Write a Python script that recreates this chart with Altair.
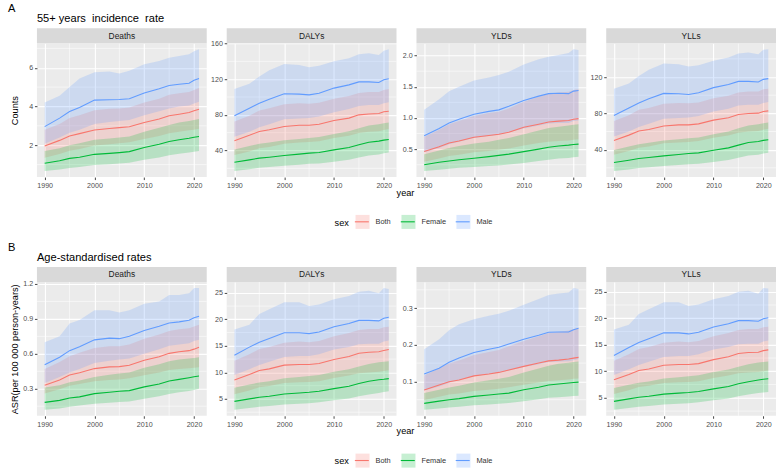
import altair as alt
import pandas as pd

# ---------------------------------------------------------------------------
# Data
# ---------------------------------------------------------------------------
YEARS = [1990, 1993, 1995, 1997, 2000, 2003, 2005, 2007, 2010, 2013, 2015, 2017, 2019, 2020, 2021]
MEASURES = ["Deaths", "DALYs", "YLDs", "YLLs"]
SEXES = ["Both", "Female", "Male"]
SEX_COLORS = ["#F8766D", "#00BA38", "#619CFF"]

# A: 55+ years incidence rate (counts) -------------------------------------
A_DEATHS_BOTH = [1.96, 2.25, 2.48, 2.6, 2.79, 2.86, 2.91, 2.95, 3.17, 3.35, 3.52, 3.6, 3.69, 3.78, 3.86]
A_DEATHS_BOTH_LO = [1.35, 1.55, 1.72, 1.8, 1.98, 2.05, 2.1, 2.15, 2.32, 2.47, 2.62, 2.7, 2.77, 2.8, 2.85]
A_DEATHS_BOTH_HI = [2.8, 3.1, 3.4, 3.55, 3.8, 3.88, 3.9, 3.95, 4.2, 4.4, 4.6, 4.68, 4.75, 4.85, 4.95]
A_DEATHS_FEMALE = [1.07, 1.2, 1.32, 1.38, 1.53, 1.58, 1.62, 1.67, 1.88, 2.05, 2.19, 2.28, 2.36, 2.41, 2.45]
A_DEATHS_FEMALE_LO = [0.67, 0.75, 0.83, 0.88, 0.98, 1.02, 1.06, 1.1, 1.25, 1.37, 1.48, 1.56, 1.62, 1.66, 1.7]
A_DEATHS_FEMALE_HI = [1.7, 1.85, 2.0, 2.1, 2.28, 2.35, 2.4, 2.45, 2.7, 2.9, 3.05, 3.17, 3.25, 3.3, 3.35]
A_DEATHS_MALE = [2.96, 3.4, 3.74, 3.95, 4.33, 4.35, 4.36, 4.4, 4.7, 4.92, 5.08, 5.15, 5.2, 5.35, 5.45]
A_DEATHS_MALE_LO = [2.07, 2.4, 2.65, 2.8, 3.1, 3.2, 3.25, 3.3, 3.55, 3.75, 3.9, 4.0, 4.05, 4.15, 4.25]
A_DEATHS_MALE_HI = [4.2, 4.55, 5.0, 5.45, 5.77, 5.8, 5.7, 5.85, 6.18, 6.35, 6.52, 6.6, 6.7, 6.85, 6.95]

A_DALYS_BOTH = [51, 57, 61.4, 63.2, 67, 68.4, 68.4, 69.5, 73.6, 76.3, 80, 81, 81.5, 83.4, 84.1]
A_DALYS_BOTH_LO = [35, 39, 42.5, 44, 47.5, 49, 49.5, 50.5, 54, 56.5, 59.5, 61, 61.5, 63, 64]
A_DALYS_BOTH_HI = [72.5, 79, 85, 87.5, 92, 93, 92.5, 93.5, 98, 101, 104.5, 105.5, 105.5, 108, 109]
A_DALYS_FEMALE = [26.9, 29.5, 31.4, 32.5, 34.4, 35.9, 37, 37.8, 40.7, 43.4, 46.4, 49.3, 50.5, 51.6, 52.3]
A_DALYS_FEMALE_LO = [17, 19, 20.5, 21.5, 23, 24, 25, 25.5, 27.5, 29.5, 32, 34.5, 35.5, 37, 37.8]
A_DALYS_FEMALE_HI = [41, 45, 47.5, 49, 51.5, 53, 54, 55, 58.5, 61.5, 65, 68, 69.5, 70.5, 71.5]
A_DALYS_MALE = [79, 87.5, 93, 97.6, 103.6, 103.2, 102.4, 104.3, 110, 113.6, 117, 117, 116.3, 119.3, 120.4]
A_DALYS_MALE_LO = [55.5, 61, 66, 69.5, 75, 76, 76.5, 78, 83, 86.5, 90, 91, 91, 93, 94]
A_DALYS_MALE_HI = [109, 115, 123, 130, 137, 136, 133.5, 135, 140, 143.5, 148, 149, 147, 152, 153.5]

A_YLDS_BOTH = [0.463, 0.54, 0.6, 0.63, 0.69, 0.72, 0.74, 0.77, 0.85, 0.9, 0.935, 0.95, 0.96, 0.98, 0.99]
A_YLDS_BOTH_LO = [0.3, 0.35, 0.39, 0.41, 0.45, 0.47, 0.49, 0.51, 0.56, 0.6, 0.62, 0.63, 0.64, 0.65, 0.66]
A_YLDS_BOTH_HI = [0.7, 0.81, 0.9, 0.95, 1.03, 1.08, 1.1, 1.15, 1.26, 1.34, 1.39, 1.41, 1.42, 1.45, 1.46]
A_YLDS_FEMALE = [0.25, 0.29, 0.31, 0.33, 0.355, 0.38, 0.4, 0.42, 0.46, 0.5, 0.53, 0.55, 0.565, 0.575, 0.58]
A_YLDS_FEMALE_LO = [0.15, 0.17, 0.185, 0.2, 0.215, 0.23, 0.24, 0.255, 0.28, 0.31, 0.33, 0.35, 0.36, 0.37, 0.38]
A_YLDS_FEMALE_HI = [0.42, 0.48, 0.52, 0.55, 0.59, 0.62, 0.65, 0.68, 0.74, 0.8, 0.84, 0.86, 0.88, 0.89, 0.9]
A_YLDS_MALE = [0.714, 0.83, 0.92, 0.98, 1.06, 1.105, 1.13, 1.186, 1.28, 1.35, 1.39, 1.395, 1.39, 1.43, 1.44]
A_YLDS_MALE_LO = [0.45, 0.52, 0.58, 0.62, 0.68, 0.71, 0.73, 0.77, 0.83, 0.88, 0.91, 0.92, 0.92, 0.95, 0.96]
A_YLDS_MALE_HI = [1.13, 1.3, 1.43, 1.5, 1.6, 1.65, 1.69, 1.74, 1.855, 1.94, 1.98, 2.01, 2.04, 2.1, 2.09]

A_YLLS_BOTH = [50.2, 56, 60.5, 62.2, 66, 67.3, 67.3, 68.4, 72.5, 75.1, 78.8, 79.8, 80.2, 82, 82.7]
A_YLLS_BOTH_LO = [34.5, 38.5, 42, 43.5, 47, 48, 48.5, 49.5, 53, 55.5, 58.5, 60, 60.5, 62, 63]
A_YLLS_BOTH_HI = [71.5, 78, 84, 86, 90.5, 91.5, 91, 92, 96.5, 99.5, 103, 104, 104, 106.5, 107]
A_YLLS_FEMALE = [25.8, 28.4, 30.3, 31.4, 33.2, 34.7, 35.7, 36.5, 39.4, 42, 45, 47.8, 49, 50.2, 51]
A_YLLS_FEMALE_LO = [16.5, 18.2, 19.7, 20.6, 22, 23, 24, 24.5, 26.5, 28.5, 31, 33.5, 34.5, 35.8, 36.5]
A_YLLS_FEMALE_HI = [39.5, 43.5, 46, 47.5, 50, 51.5, 52.5, 53.5, 57, 60, 63.5, 66.5, 68, 69, 70]
A_YLLS_MALE = [77.5, 86, 91.5, 96, 102, 101.5, 100.8, 102.6, 108.3, 111.8, 115.2, 115.2, 114.5, 117.4, 118.2]
A_YLLS_MALE_LO = [54.5, 60, 65, 68.5, 74, 75, 75.5, 77, 82, 85, 88.5, 89.5, 89.5, 91.5, 92.5]
A_YLLS_MALE_HI = [107, 113, 121, 128, 135, 134, 131.5, 133, 138, 141.5, 146, 147, 145, 150, 150.5]

# B: age-standardised rates ---------------------------------------------------
B_DEATHS_BOTH = [0.33, 0.375, 0.418, 0.438, 0.473, 0.488, 0.49, 0.502, 0.545, 0.575, 0.604, 0.618, 0.627, 0.64, 0.656]
B_DEATHS_BOTH_LO = [0.26, 0.295, 0.325, 0.34, 0.365, 0.375, 0.38, 0.39, 0.415, 0.44, 0.46, 0.47, 0.475, 0.48, 0.485]
B_DEATHS_BOTH_HI = [0.47, 0.53, 0.58, 0.61, 0.65, 0.665, 0.665, 0.68, 0.73, 0.765, 0.795, 0.81, 0.82, 0.835, 0.85]
B_DEATHS_FEMALE = [0.183, 0.2, 0.22, 0.23, 0.258, 0.27, 0.279, 0.284, 0.316, 0.34, 0.366, 0.38, 0.395, 0.403, 0.41]
B_DEATHS_FEMALE_LO = [0.12, 0.13, 0.145, 0.155, 0.17, 0.18, 0.185, 0.19, 0.215, 0.235, 0.255, 0.27, 0.28, 0.29, 0.3]
B_DEATHS_FEMALE_HI = [0.31, 0.33, 0.355, 0.37, 0.4, 0.42, 0.43, 0.44, 0.48, 0.51, 0.535, 0.55, 0.56, 0.565, 0.57]
B_DEATHS_MALE = [0.505, 0.57, 0.627, 0.66, 0.72, 0.735, 0.73, 0.75, 0.8, 0.836, 0.865, 0.874, 0.888, 0.91, 0.923]
B_DEATHS_MALE_LO = [0.35, 0.4, 0.44, 0.47, 0.52, 0.54, 0.55, 0.56, 0.6, 0.64, 0.67, 0.68, 0.69, 0.71, 0.72]
B_DEATHS_MALE_HI = [0.7, 0.75, 0.86, 0.89, 0.975, 0.975, 0.955, 0.975, 1.03, 1.05, 1.105, 1.105, 1.12, 1.165, 1.165]

B_DALYS_BOTH = [8.58, 9.6, 10.35, 10.66, 11.36, 11.5, 11.5, 11.67, 12.43, 13.0, 13.6, 13.8, 13.88, 14.13, 14.32]
B_DALYS_BOTH_LO = [5.9, 6.6, 7.2, 7.45, 8.0, 8.15, 8.2, 8.35, 8.95, 9.4, 9.85, 10.0, 10.1, 10.25, 10.4]
B_DALYS_BOTH_HI = [12.2, 13.4, 14.4, 14.8, 15.6, 15.8, 15.7, 15.9, 16.8, 17.4, 18.0, 18.2, 18.2, 18.5, 18.6]
B_DALYS_FEMALE = [4.54, 5.0, 5.3, 5.5, 5.93, 6.12, 6.25, 6.44, 6.94, 7.4, 7.9, 8.33, 8.6, 8.7, 8.83]
B_DALYS_FEMALE_LO = [2.97, 3.3, 3.5, 3.65, 3.95, 4.1, 4.2, 4.35, 4.75, 5.1, 5.5, 5.85, 6.1, 6.3, 6.44]
B_DALYS_FEMALE_HI = [7.1, 7.7, 8.1, 8.35, 8.9, 9.15, 9.3, 9.5, 10.1, 10.6, 11.1, 11.6, 11.9, 12.0, 12.1]
B_DALYS_MALE = [13.25, 14.76, 15.7, 16.4, 17.48, 17.48, 17.3, 17.6, 18.6, 19.2, 19.8, 19.8, 19.7, 20.2, 20.4]
B_DALYS_MALE_LO = [9.5, 10.6, 11.4, 12.0, 12.9, 13.1, 13.1, 13.4, 14.3, 14.8, 15.3, 15.4, 15.4, 15.8, 16.0]
B_DALYS_MALE_HI = [18.1, 19.0, 21.0, 21.9, 23.2, 23.2, 22.5, 22.8, 23.8, 24.4, 25.2, 25.4, 24.9, 25.9, 25.7]

B_YLDS_BOTH = [0.0764, 0.09, 0.099, 0.104, 0.115, 0.12, 0.1245, 0.131, 0.141, 0.15, 0.156, 0.158, 0.161, 0.1636, 0.1655]
B_YLDS_BOTH_LO = [0.049, 0.058, 0.064, 0.067, 0.074, 0.077, 0.08, 0.084, 0.091, 0.097, 0.101, 0.103, 0.105, 0.107, 0.108]
B_YLDS_BOTH_HI = [0.116, 0.136, 0.149, 0.157, 0.172, 0.18, 0.186, 0.196, 0.21, 0.223, 0.232, 0.235, 0.239, 0.243, 0.246]
B_YLDS_FEMALE = [0.04, 0.046, 0.05, 0.053, 0.059, 0.063, 0.0655, 0.068, 0.077, 0.084, 0.09, 0.093, 0.0955, 0.097, 0.098]
B_YLDS_FEMALE_LO = [0.0227, 0.026, 0.029, 0.031, 0.035, 0.037, 0.039, 0.041, 0.046, 0.051, 0.055, 0.057, 0.059, 0.06, 0.061]
B_YLDS_FEMALE_HI = [0.068, 0.077, 0.083, 0.088, 0.097, 0.103, 0.107, 0.112, 0.124, 0.135, 0.143, 0.148, 0.151, 0.153, 0.154]
B_YLDS_MALE = [0.12, 0.136, 0.152, 0.164, 0.179, 0.188, 0.193, 0.202, 0.215, 0.226, 0.234, 0.235, 0.235, 0.241, 0.245]
B_YLDS_MALE_LO = [0.075, 0.086, 0.096, 0.104, 0.114, 0.12, 0.124, 0.13, 0.139, 0.147, 0.153, 0.154, 0.155, 0.158, 0.161]
B_YLDS_MALE_HI = [0.188, 0.215, 0.24, 0.256, 0.27, 0.279, 0.285, 0.293, 0.309, 0.325, 0.336, 0.34, 0.343, 0.355, 0.352]

B_YLLS_BOTH = [8.4, 9.4, 10.15, 10.45, 11.15, 11.3, 11.3, 11.45, 12.2, 12.75, 13.35, 13.55, 13.6, 13.9, 14.05]
B_YLLS_BOTH_LO = [5.75, 6.45, 7.05, 7.3, 7.8, 7.95, 8.0, 8.15, 8.75, 9.2, 9.65, 9.8, 9.85, 10.0, 10.15]
B_YLLS_BOTH_HI = [12.0, 13.2, 14.2, 14.6, 15.4, 15.6, 15.5, 15.7, 16.6, 17.2, 17.8, 18.0, 18.0, 18.3, 18.4]
B_YLLS_FEMALE = [4.34, 4.8, 5.1, 5.3, 5.7, 5.9, 6.0, 6.2, 6.7, 7.15, 7.65, 8.05, 8.35, 8.5, 8.6]
B_YLLS_FEMALE_LO = [2.77, 3.1, 3.3, 3.45, 3.75, 3.9, 4.0, 4.15, 4.55, 4.9, 5.3, 5.65, 5.9, 6.0, 6.1]
B_YLLS_FEMALE_HI = [6.85, 7.45, 7.85, 8.1, 8.65, 8.9, 9.05, 9.25, 9.85, 10.35, 10.85, 11.35, 11.65, 11.75, 11.85]
B_YLLS_MALE = [13.0, 14.5, 15.45, 16.15, 17.25, 17.25, 17.05, 17.35, 18.35, 18.95, 19.55, 19.55, 19.45, 19.9, 20.1]
B_YLLS_MALE_LO = [9.3, 10.4, 11.2, 11.8, 12.7, 12.9, 12.9, 13.2, 14.1, 14.6, 15.1, 15.2, 15.2, 15.6, 15.8]
B_YLLS_MALE_HI = [17.9, 18.8, 20.8, 21.7, 23.0, 23.0, 22.3, 22.6, 23.6, 24.2, 25.0, 25.2, 24.6, 25.7, 25.6]

# Axis ticks and label formats for each panel
Y_TICKS = {
    ("A", "Deaths"): [2, 4, 6],
    ("A", "DALYs"): [40, 80, 120, 160],
    ("A", "YLDs"): [0.5, 1.0, 1.5, 2.0],
    ("A", "YLLs"): [40, 80, 120],
    ("B", "Deaths"): [0.3, 0.6, 0.9, 1.2],
    ("B", "DALYs"): [5, 10, 15, 20, 25],
    ("B", "YLDs"): [0.1, 0.2, 0.3],
    ("B", "YLLs"): [5, 10, 15, 20, 25],
}
Y_FORMATS = {
    ("A", "Deaths"): "d", ("A", "DALYs"): "d", ("A", "YLDs"): ".1f", ("A", "YLLs"): "d",
    ("B", "Deaths"): ".1f", ("B", "DALYs"): "d", ("B", "YLDs"): ".1f", ("B", "YLLs"): "d",
}
X_TICKS = [1990, 2000, 2010, 2020]
X_MINOR = [1995, 2005, 2015]

SECTION_TAGS = {"A": "A", "B": "B"}
SECTION_TITLES = {"A": "55+ years\u00a0 incidence\u00a0 rate", "B": "Age-standardised rates"}
SECTION_YTITLES = {"A": "Counts", "B": "ASR(per 100 000 person-years)"}

SERIES = {
    ("A", "Deaths"): {"Both": (A_DEATHS_BOTH, A_DEATHS_BOTH_LO, A_DEATHS_BOTH_HI),
                      "Female": (A_DEATHS_FEMALE, A_DEATHS_FEMALE_LO, A_DEATHS_FEMALE_HI),
                      "Male": (A_DEATHS_MALE, A_DEATHS_MALE_LO, A_DEATHS_MALE_HI)},
    ("A", "DALYs"): {"Both": (A_DALYS_BOTH, A_DALYS_BOTH_LO, A_DALYS_BOTH_HI),
                     "Female": (A_DALYS_FEMALE, A_DALYS_FEMALE_LO, A_DALYS_FEMALE_HI),
                     "Male": (A_DALYS_MALE, A_DALYS_MALE_LO, A_DALYS_MALE_HI)},
    ("A", "YLDs"): {"Both": (A_YLDS_BOTH, A_YLDS_BOTH_LO, A_YLDS_BOTH_HI),
                    "Female": (A_YLDS_FEMALE, A_YLDS_FEMALE_LO, A_YLDS_FEMALE_HI),
                    "Male": (A_YLDS_MALE, A_YLDS_MALE_LO, A_YLDS_MALE_HI)},
    ("A", "YLLs"): {"Both": (A_YLLS_BOTH, A_YLLS_BOTH_LO, A_YLLS_BOTH_HI),
                    "Female": (A_YLLS_FEMALE, A_YLLS_FEMALE_LO, A_YLLS_FEMALE_HI),
                    "Male": (A_YLLS_MALE, A_YLLS_MALE_LO, A_YLLS_MALE_HI)},
    ("B", "Deaths"): {"Both": (B_DEATHS_BOTH, B_DEATHS_BOTH_LO, B_DEATHS_BOTH_HI),
                      "Female": (B_DEATHS_FEMALE, B_DEATHS_FEMALE_LO, B_DEATHS_FEMALE_HI),
                      "Male": (B_DEATHS_MALE, B_DEATHS_MALE_LO, B_DEATHS_MALE_HI)},
    ("B", "DALYs"): {"Both": (B_DALYS_BOTH, B_DALYS_BOTH_LO, B_DALYS_BOTH_HI),
                     "Female": (B_DALYS_FEMALE, B_DALYS_FEMALE_LO, B_DALYS_FEMALE_HI),
                     "Male": (B_DALYS_MALE, B_DALYS_MALE_LO, B_DALYS_MALE_HI)},
    ("B", "YLDs"): {"Both": (B_YLDS_BOTH, B_YLDS_BOTH_LO, B_YLDS_BOTH_HI),
                    "Female": (B_YLDS_FEMALE, B_YLDS_FEMALE_LO, B_YLDS_FEMALE_HI),
                    "Male": (B_YLDS_MALE, B_YLDS_MALE_LO, B_YLDS_MALE_HI)},
    ("B", "YLLs"): {"Both": (B_YLLS_BOTH, B_YLLS_BOTH_LO, B_YLLS_BOTH_HI),
                    "Female": (B_YLLS_FEMALE, B_YLLS_FEMALE_LO, B_YLLS_FEMALE_HI),
                    "Male": (B_YLLS_MALE, B_YLLS_MALE_LO, B_YLLS_MALE_HI)},
}

rows = []
for (sec, measure), by_sex in SERIES.items():
    for sex, (val, lo, hi) in by_sex.items():
        for yr, v, l, h in zip(YEARS, val, lo, hi):
            rows.append({"section": sec, "measure": measure, "sex": sex,
                         "year": yr, "val": v, "lo": l, "hi": h})
df = pd.DataFrame(rows)

# ---------------------------------------------------------------------------
# Styling
# ---------------------------------------------------------------------------
FONT = "Liberation Sans"
W, H, STRIP = 170, 134, 15
GAP = 20
ROW_GAP = 105
XDOM = [1988.45, 2022.55]          # 1990-2021 plus 5 % expansion on each side
TICK_TXT, STRIP_TXT, LEG_TXT, AXIS_TTL, HEAD_TXT = 7.1, 8.4, 7.4, 9.2, 11.1
LEG_X, LEG_Y = 298, 170.5
LEG_TITLE_W = 19.3                 # width of the "sex" title plus its padding

# ribbons use an explicit domain, lines a data-driven one, so that the two
# legends stay separate and can be stacked into ribbon+line keys
FILL_SCALE = alt.Scale(domain=SEXES, range=SEX_COLORS)
STROKE_SCALE = alt.Scale(range=SEX_COLORS)


def legends():
    common = dict(orient="none", legendY=LEG_Y, direction="horizontal",
                  labelFontSize=LEG_TXT, labelColor="#333333", labelOffset=5,
                  columnPadding=7, symbolSize=196, symbolStrokeWidth=1.1)
    fill_leg = alt.Legend(legendX=LEG_X, title="sex", titleOrient="left",
                          titleFontSize=AXIS_TTL, titleFontWeight="normal",
                          titleColor="black", titlePadding=5,
                          titleBaseline="middle", titleAnchor="middle",
                          symbolType="square", symbolOpacity=0.22,
                          symbolStrokeColor="transparent", **common)
    # line keys drawn over the ribbon keys; their labels are carried by the
    # ribbon legend
    stroke_leg = alt.Legend(legendX=LEG_X + LEG_TITLE_W, title=None,
                            symbolType="stroke", symbolOpacity=1,
                            labelOpacity=0, **common)
    return fill_leg, stroke_leg


def panel(sec, measure, first):
    key = (sec, measure)
    d = df[(df["section"] == sec) & (df["measure"] == measure)]
    lo_min, hi_max = d["lo"].min(), d["hi"].max()
    pad = 0.05 * (hi_max - lo_min)
    ydom = [lo_min - pad, hi_max + pad]
    ticks = Y_TICKS[key]
    step = ticks[1] - ticks[0]
    yminor = [t + step / 2 for t in [ticks[0] - step] + ticks]
    yminor = [v for v in yminor if ydom[0] <= v <= ydom[1]]

    xs = alt.Scale(domain=XDOM, nice=False, zero=False)
    ys = alt.Scale(domain=ydom, nice=False, zero=False)
    common_axis = dict(grid=True, gridColor="white", gridWidth=1.1, domain=False,
                       tickColor="#333333", tickSize=2.5, tickWidth=0.9,
                       labelFontSize=TICK_TXT, labelColor="#4D4D4D",
                       labelPadding=1.8, labelOverlap=False, labelFlush=False)
    xax = alt.Axis(values=X_TICKS, format="d", title=None, **common_axis)
    if first:
        yax = alt.Axis(values=ticks, format=Y_FORMATS[key], title=SECTION_YTITLES[sec],
                       titleFontSize=AXIS_TTL, titleFontWeight="normal", titleColor="black",
                       titleX=-17, titleY=H / 2, titleAngle=270, titleAlign="center",
                       titleBaseline="bottom", **common_axis)
    else:
        yax = alt.Axis(values=ticks, format=Y_FORMATS[key], title=None, **common_axis)

    def X(f):
        return alt.X(f"{f}:Q", scale=xs, axis=xax)

    def Y(f):
        return alt.Y(f"{f}:Q", scale=ys, axis=yax)

    fill_leg, stroke_leg = legends()

    vgrid = alt.Chart(pd.DataFrame({"gx": X_MINOR})).mark_rule(
        color="white", strokeWidth=0.55).encode(x=X("gx"))
    hgrid = alt.Chart(pd.DataFrame({"gy": yminor})).mark_rule(
        color="white", strokeWidth=0.55).encode(y=Y("gy"))
    ribbons = alt.Chart(d).mark_area(opacity=0.22).encode(
        x=X("year"), y=Y("lo"), y2="hi",
        fill=alt.Fill("sex:N", scale=FILL_SCALE, legend=fill_leg))
    lines = alt.Chart(d).mark_line(strokeWidth=1.1).encode(
        x=X("year"), y=Y("val"),
        stroke=alt.Stroke("sex:N", scale=STROKE_SCALE, legend=stroke_leg))

    strip_df = pd.DataFrame({"measure": [measure]})
    strip = alt.Chart(strip_df).mark_rect(color="#D9D9D9").encode(
        x=alt.value(0), x2=alt.value(W), y=alt.value(-STRIP), y2=alt.value(0))
    strip_text = alt.Chart(strip_df).mark_text(
        fontSize=STRIP_TXT, color="#1A1A1A", baseline="middle").encode(
        x=alt.value(W / 2), y=alt.value(-STRIP / 2), text="measure:N")

    layers = [vgrid, hgrid, ribbons, lines, strip, strip_text]

    if first:
        tag_df = pd.DataFrame({"label": [SECTION_TAGS[sec]]})
        head_df = pd.DataFrame({"label": [SECTION_TITLES[sec]]})
        layers.append(alt.Chart(tag_df).mark_text(
            fontSize=HEAD_TXT, align="left", baseline="alphabetic", color="black").encode(
            x=alt.value(-29), y=alt.value(-31), text="label:N"))
        layers.append(alt.Chart(head_df).mark_text(
            fontSize=HEAD_TXT, align="left", baseline="alphabetic", color="black").encode(
            x=alt.value(0), y=alt.value(-21.3), text="label:N"))
    if measure == "YLDs":
        xt_df = pd.DataFrame({"label": ["year"]})
        layers.append(alt.Chart(xt_df).mark_text(
            fontSize=AXIS_TTL, align="center", baseline="alphabetic", color="black").encode(
            x=alt.value(-11), y=alt.value(H + 18.5), text="label:N"))

    return alt.layer(*layers).properties(width=W, height=H)


def section(sec):
    return alt.hconcat(*[panel(sec, m, i == 0) for i, m in enumerate(MEASURES)],
                       spacing=GAP, bounds="flush")


# with flush bounds the rows are stacked by their plot tops: panel height + gap
chart = alt.vconcat(section("A"), section("B"), spacing=H + ROW_GAP, bounds="flush").resolve_scale(
    fill="independent", stroke="independent"
).properties(
    padding={"left": 8, "top": 3, "right": 2, "bottom": 2},
    background="white",
).configure(font=FONT).configure_view(fill="#EBEBEB", strokeWidth=0)

chart.save("out.html", embed_options={"renderer": "svg", "actions": False})
